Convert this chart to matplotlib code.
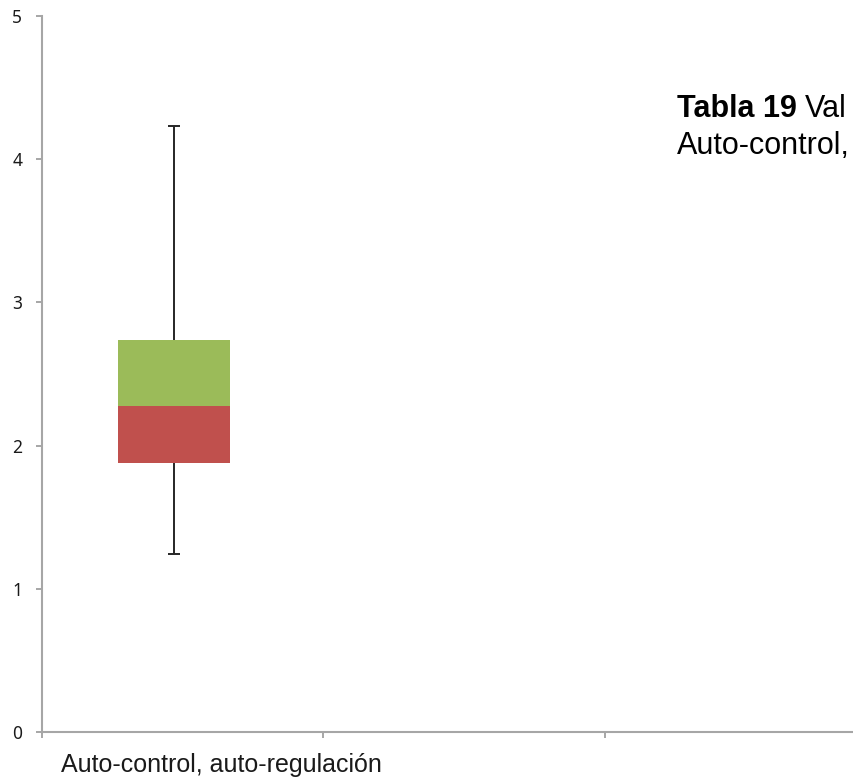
import matplotlib
matplotlib.use('Agg')
import matplotlib.pyplot as plt
from matplotlib.transforms import blended_transform_factory

# datos del diagrama de caja
categorias = ['Auto-control, auto-regulación']
posiciones = [0.469]
minimo = [1.24]
q1 = [1.88]
mediana = [2.28]
q3 = [2.74]
maximo = [4.23]

y_ticks = [0, 1, 2, 3, 4, 5]
x_ticks = [0, 1, 2, 3]

gris = '#a6a6a6'
rojo = '#c0504d'
verde = '#9bbb59'
negro = '#262626'

fig = plt.figure(figsize=(8.54, 7.82), dpi=100)
ax = fig.add_axes([42 / 854, 50 / 782, 1 - 42 / 854, 716 / 782])

ancho = 0.398
inf = [m - a for m, a in zip(mediana, q1)]
sup = [b - m for b, m in zip(q3, mediana)]
ax.bar(posiciones, inf, ancho, bottom=q1, color=rojo, zorder=2)
ax.bar(posiciones, sup, ancho, bottom=mediana, color=verde, zorder=2)

# bigotes (estilo barras de error de Excel)
cap = 0.0213
ax.vlines(posiciones, minimo, q1, color=negro, lw=1.4, zorder=1)
ax.vlines(posiciones, q3, maximo, color=negro, lw=1.4, zorder=1)
ax.hlines(minimo, [p - cap for p in posiciones], [p + cap for p in posiciones],
          color=negro, lw=1.4, zorder=1)
ax.hlines(maximo, [p - cap for p in posiciones], [p + cap for p in posiciones],
          color=negro, lw=1.4, zorder=1)

ax.set_yticks(y_ticks)
ax.set_yticklabels([str(t) for t in y_ticks], fontsize=12.5, family='Noto Sans',
                   color='#1a1a1a')
ax.set_xticks(x_ticks)
ax.set_xticklabels([''] * len(x_ticks))
ax.set_xlim(0, (854 - 42) / 281.5)
ax.set_ylim(0, 5)
ax.tick_params(axis='y', length=4.3, width=1.4, color=gris, pad=10)
ax.tick_params(axis='x', length=4.3, width=1.4, color=gris)
for s in ['top', 'right']:
    ax.spines[s].set_visible(False)
for s in ['left', 'bottom']:
    ax.spines[s].set_color(gris)
    ax.spines[s].set_linewidth(1.5)

tr = blended_transform_factory(ax.transData, fig.transFigure)
for p, c in zip(posiciones, categorias):
    ax.text(p - 0.4, 1 - 772 / 782, c, transform=tr, ha='left', va='baseline',
            fontsize=18, family='Liberation Sans', color='#1a1a1a')

# titulo (cortado por el borde derecho en el original)
t1 = fig.text(677 / 854, 1 - 117 / 782, 'Tabla 19', fontsize=22, fontweight='bold',
              family='Liberation Sans', va='baseline', ha='left')
fig.canvas.draw()
bb = t1.get_window_extent()
fig.text(bb.x1 / 854 + 8 / 854, 1 - 117 / 782, 'Val', fontsize=22,
         family='Liberation Sans', va='baseline', ha='left')
fig.text(677 / 854, 1 - 154 / 782, 'Auto-control,', fontsize=22,
         family='Liberation Sans', va='baseline', ha='left')

fig.savefig('out.png', dpi=100)
